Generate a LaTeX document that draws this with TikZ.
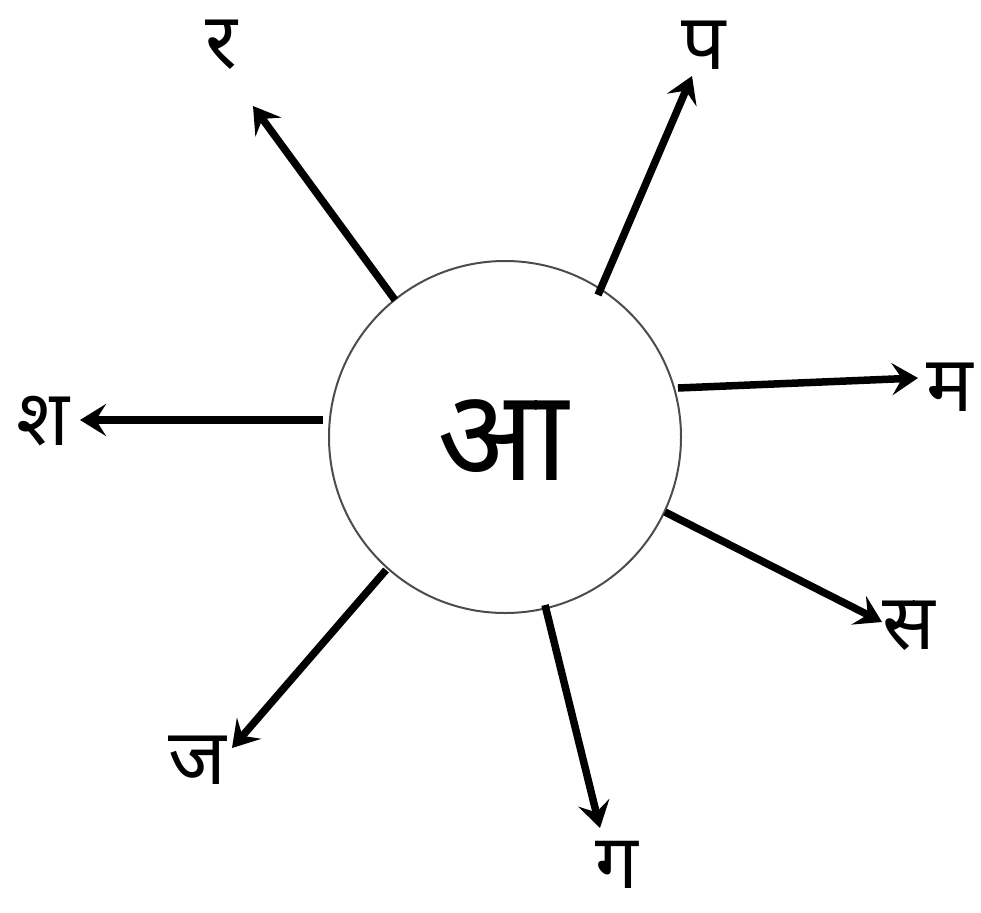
\documentclass[tikz,border=0pt]{standalone}
\usepackage{fontspec}
\newfontfamily\deva[Script=Devanagari]{Noto Sans}
\usetikzlibrary{arrows.meta}
\begin{document}
\begin{tikzpicture}[x=1pt,y=-1pt,
  arr/.style={line width=7.5pt,-{Stealth[length=26pt,width=32pt,inset=10pt]}},
  lbl/.style={font=\deva\fontsize{78}{78}\selectfont,inner sep=0pt},
  hub/.style={circle,draw=black!70,line width=2pt,minimum size=352pt,inner sep=0pt}]
\useasboundingbox (0,0) rectangle (981,912);
\node[hub] (c) at (505,437) {};
\node[font=\deva\fontsize{128}{128}\selectfont,inner sep=0pt] (t) at (503,440) {आ};
\node[lbl] (ra) at (221,45) {र};
\node[lbl] (pa) at (704,45) {प};
\node[lbl] (ma) at (950,387) {म};
\node[lbl] (sa) at (909,626) {स};
\node[lbl,font=\deva\fontsize{76}{76}\selectfont,text depth=0pt,anchor=base] (ga) at (617,888) {ग};
\node[lbl] (ja) at (197,760) {ज};
\node[lbl] (sha) at (43,421) {श};
\coordinate (r0) at (395,300); \coordinate (r1) at (253,106);
\coordinate (p0) at (598,295); \coordinate (p1) at (692,76);
\coordinate (m0) at (678,388); \coordinate (m1) at (918,378);
\coordinate (s0) at (665,512); \coordinate (s1) at (882,622);
\coordinate (g0) at (545,605); \coordinate (g1) at (600,828);
\coordinate (j0) at (386,570); \coordinate (j1) at (232,748);
\coordinate (h0) at (323,420); \coordinate (h1) at (80,420);
\draw[arr] (r0) -- (r1);
\draw[arr] (p0) -- (p1);
\draw[arr] (m0) -- (m1);
\draw[arr] (s0) -- (s1);
\draw[arr] (g0) -- (g1);
\draw[arr] (j0) -- (j1);
\draw[arr] (h0) -- (h1);
\end{tikzpicture}
\end{document}
